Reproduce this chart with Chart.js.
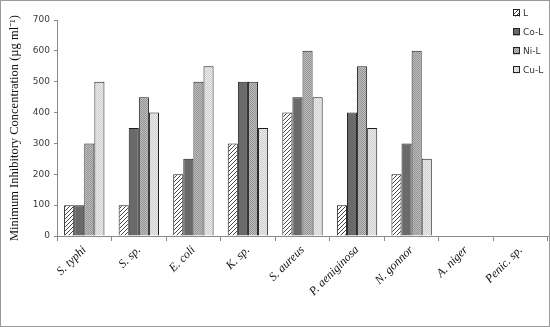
<!DOCTYPE html>
<html>
<head>
<meta charset="utf-8">
<script src="https://cdn.jsdelivr.net/npm/chart.js@4.4.1/dist/chart.umd.min.js"></script>
<style>
  html, body { margin: 0; padding: 0; background: #fff; }
  #wrap { width: 550px; height: 327px; position: relative; }
</style>
</head>
<body>
<div id="wrap"><canvas id="micChart" width="550" height="327"></canvas></div>
<script>
// ---------------------------------------------------------------------------
// Data
// ---------------------------------------------------------------------------
const organisms = ["S. typhi", "S. sp.", "E. coli", "K. sp.", "S. aureus",
                   "P. aeniginosa", "N. gonnor", "A. niger", "Penic. sp."];
const seriesNames = ["L", "Co-L", "Ni-L", "Cu-L"];
const valuesL   = [100, 100, 200, 300, 400, 100, 200, null, null];
const valuesCoL = [100, 350, 250, 500, 450, 400, 300, null, null];
const valuesNiL = [300, 450, 500, 500, 600, 550, 600, null, null];
const valuesCuL = [500, 400, 550, 350, 450, 350, 250, null, null];
const yTicks = [0, 100, 200, 300, 400, 500, 600, 700];

// ---------------------------------------------------------------------------
// Helper: small canvas fill patterns (hatch / solid / fine checks)
// ---------------------------------------------------------------------------
function makePattern(size, draw) {
  const c = document.createElement("canvas");
  c.width = size;
  c.height = size;
  draw(c.getContext("2d"), size);
  return c.getContext("2d").createPattern(c, "repeat");
}

const fillL = makePattern(4, (g, s) => {
  g.fillStyle = "#ffffff";
  g.fillRect(0, 0, s, s);
  g.strokeStyle = "#444";
  g.lineWidth = 1;
  g.beginPath();
  g.moveTo(0, s); g.lineTo(s, 0);
  g.moveTo(-1, 1); g.lineTo(1, -1);
  g.moveTo(s - 1, s + 1); g.lineTo(s + 1, s - 1);
  g.stroke();
});
const fillCoL = "#6a6a6a";
const fillNiL = makePattern(2, (g) => {
  g.fillStyle = "#bdbdbd"; g.fillRect(0, 0, 2, 2);
  g.fillStyle = "#949494"; g.fillRect(0, 0, 1, 1); g.fillRect(1, 1, 1, 1);
});
const fillCuL = makePattern(2, (g) => {
  g.fillStyle = "#ececec"; g.fillRect(0, 0, 2, 2);
  g.fillStyle = "#cfcfcf"; g.fillRect(0, 0, 1, 1); g.fillRect(1, 1, 1, 1);
});
const fills = [fillL, fillCoL, fillNiL, fillCuL];

// ---------------------------------------------------------------------------
// Plugin: outer frame and a small legend inside the plot area (top right)
// ---------------------------------------------------------------------------
const framePlugin = {
  id: "frame",
  afterDraw(chart) {
    const ctx = chart.ctx;
    ctx.save();
    ctx.strokeStyle = "#9a9a9a";
    ctx.lineWidth = 1;
    ctx.strokeRect(0.5, 0.5, chart.width - 1, chart.height - 1);
    ctx.restore();
  }
};

const boxLegendPlugin = {
  id: "boxLegend",
  afterDraw(chart) {
    const ctx = chart.ctx;
    const x = 513, y0 = 13, step = 19;
    ctx.save();
    ctx.font = "9px 'DejaVu Sans'";
    ctx.textBaseline = "middle";
    chart.data.datasets.forEach((ds, i) => {
      const y = y0 + i * step;
      ctx.fillStyle = ds.backgroundColor;
      ctx.fillRect(x, y - 3.5, 7, 7);
      ctx.strokeStyle = "#222";
      ctx.lineWidth = 1;
      ctx.strokeRect(x + 0.5, y - 3.5, 6, 6);
      ctx.fillStyle = "#333";
      ctx.fillText(ds.label, x + 10, y + 0.5);
    });
    ctx.restore();
  }
};

// ---------------------------------------------------------------------------
// Chart
// ---------------------------------------------------------------------------
const seriesValues = [valuesL, valuesCoL, valuesNiL, valuesCuL];

new Chart(document.getElementById("micChart").getContext("2d"), {
  type: "bar",
  data: {
    labels: organisms,
    datasets: seriesNames.map((name, i) => ({
      label: name,
      data: seriesValues[i],
      backgroundColor: fills[i],
      borderColor: "#1e1e1e",
      borderWidth: 1,
      categoryPercentage: 0.74,
      barPercentage: 1.0,
    })),
  },
  options: {
    responsive: false,
    animation: false,
    layout: { padding: { top: 20, right: 2, left: 0, bottom: 0 } },
    plugins: {
      legend: { display: false },
      tooltip: { enabled: false },
    },
    scales: {
      x: {
        grid: {
          offset: true,
          drawOnChartArea: false,
          drawTicks: true,
          tickLength: 5,
          color: "#8a8a8a",
        },
        border: { color: "#8a8a8a" },
        ticks: {
          minRotation: 45,
          maxRotation: 45,
          color: "#111",
          font: { family: "'Liberation Serif'", style: "italic", size: 12 },
          padding: 2,
        },
        afterFit: scale => { scale.height = 91; },
      },
      y: {
        min: 0,
        max: 700,
        afterBuildTicks: scale => { scale.ticks = yTicks.map(v => ({ value: v })); },
        grid: {
          drawOnChartArea: false,
          drawTicks: true,
          tickLength: 3,
          color: "#8a8a8a",
        },
        border: { color: "#8a8a8a" },
        ticks: {
          color: "#3a3a3a",
          font: { family: "'DejaVu Sans'", size: 9 },
          padding: 4,
        },
        title: {
          display: true,
          text: "Minimum Inhibitory Concentration (µg ml⁻¹)",
          color: "#111",
          font: { family: "'Liberation Serif'", size: 12.5 },
          padding: { top: 7, bottom: 2 },
        },
        afterFit: scale => { scale.width = 57; },
      },
    },
  },
  plugins: [framePlugin, boxLegendPlugin],
});
</script>
</body>
</html>
